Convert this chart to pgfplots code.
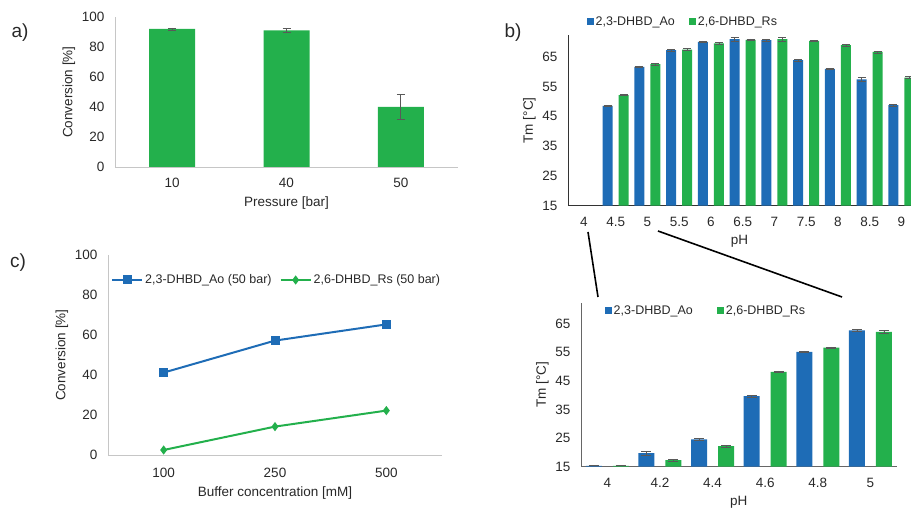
\documentclass[border=0pt]{standalone}
\usepackage{fontspec}
\setmainfont{Liberation Sans}
\usepackage{pgfplots}
\pgfplotsset{compat=1.18}
\definecolor{myblue}{RGB}{30,108,182}
\definecolor{mygreen}{RGB}{35,176,76}
\definecolor{txt}{RGB}{40,40,40}
\pgfplotsset{
  mystyle/.style={
    scale only axis,
    axis x line*=bottom, axis y line*=left,
    axis line style={-, line width=0.8pt},
    major tick length=0pt,
    tick label style={font=\fontsize{13.5}{15}\selectfont, text=txt},
    label style={font=\fontsize{13.5}{15}\selectfont, text=txt},
    /pgf/number format/assume math mode=true,
    yticklabel style={xshift=-7pt},
    xticklabel style={yshift=-8pt},
    xlabel style={yshift=-2pt},
    legend style={draw=none, fill=none, font=\fontsize{12.5}{14}\selectfont, text=txt, legend columns=2},
  },
  sqlegend/.style={legend image code/.code={\fill[##1] (0pt,-3.5pt) rectangle (7pt,3.5pt);}},
  ebar/.style={error bars/.cd, y dir=both, y explicit,
    error bar style={gray!70!black, line width=0.7pt},
    error mark options={rotate=90, mark size=#1, gray!70!black, line width=0.7pt}},
}
\begin{document}
\begin{tikzpicture}
% ---------- panel a ----------
\begin{axis}[mystyle, at={(115pt,-167pt)}, anchor=south west,
  width=343pt, height=150pt,
  axis line style={draw=gray!45},
  ymin=0, ymax=100, ytick={0,20,40,60,80,100},
  xmin=-0.5, xmax=2.5, xtick={0,1,2}, xticklabels={10,40,50},
  ylabel={Conversion [\%]}, xlabel={Pressure [bar]},
  ybar, bar width=46pt]
\addplot[fill=mygreen, draw=none, ebar=4pt] coordinates {(0,92)+-(0,0.7) (1,91)+-(0,1.5) (2,40)+-(0,8.2)};
\end{axis}
% ---------- panel b ----------
\begin{axis}[mystyle, at={(568pt,-205.7pt)}, anchor=south west,
  width=343pt, height=170.7pt,
  axis line style={draw=black!80},
  ymin=15, ymax=72.3, ytick={15,25,35,45,55,65},
  xmin=3.75, xmax=9.15, xtick={4,4.5,5,5.5,6,6.5,7,7.5,8,8.5,9},
  xticklabels={4,4.5,5,5.5,6,6.5,7,7.5,8,8.5,9},
  ylabel={Tm [°C]}, xlabel={pH},
  ybar=6pt, bar width=10pt, sqlegend,
  legend style={at={(axis description cs:0.045,1.078)}, anchor=west,
    /tikz/every even column/.append style={column sep=12pt}}]
\addplot[fill=myblue, draw=none, ebar=4pt] coordinates {
 (4.5,48.5)+-(0,0.2) (5,61.6)+-(0,0.3) (5.5,67.2)+-(0,0.3) (6,70.0)+-(0,0.3) (6.5,70.9)+-(0,0.6)
 (7,70.6)+-(0,0.3) (7.5,63.9)+-(0,0.3) (8,60.9)+-(0,0.3) (8.5,57.4)+-(0,0.6) (9,48.8)+-(0,0.3)};
\addplot[fill=mygreen, draw=none, ebar=4pt] coordinates {
 (4.5,52.1)+-(0,0.2) (5,62.5)+-(0,0.3) (5.5,67.4)+-(0,0.3) (6,69.5)+-(0,0.3) (6.5,70.7)+-(0,0.3)
 (7,70.9)+-(0,0.6) (7.5,70.3)+-(0,0.3) (8,68.9)+-(0,0.3) (8.5,66.6)+-(0,0.3) (9,58.0)+-(0,0.3)};
\addlegendentry{2,3-DHBD\_Ao}
\addlegendentry{2,6-DHBD\_Rs}
\end{axis}
% ---------- panel c ----------
\begin{axis}[mystyle, at={(108pt,-455pt)}, anchor=south west,
  width=334pt, height=200pt,
  axis line style={draw=gray!45},
  ymin=0, ymax=100, ytick={0,20,40,60,80,100},
  xmin=-0.5, xmax=2.5, xtick={0,1,2}, xticklabels={100,250,500},
  xticklabel style={yshift=-2pt},
  ylabel={Conversion [\%]}, xlabel={Buffer concentration [mM]},
  legend image code/.code={\draw[mark repeat=2,mark phase=2,#1] plot coordinates {(0pt,0pt) (15pt,0pt) (30pt,0pt)};},
  legend style={at={(axis description cs:0.0,0.875)}, anchor=west,
    /tikz/every even column/.append style={column sep=6pt}}]
\addplot[myblue, line width=2pt, mark=square*, mark size=3.5pt] coordinates {(0,41.2) (1,57.2) (2,65.3)};
\addplot[mygreen, line width=2pt, mark=diamond*, mark size=3pt] coordinates {(0,2.5) (1,14.2) (2,22.2)};
\addlegendentry{2,3-DHBD\_Ao (50 bar)}
\addlegendentry{2,6-DHBD\_Rs (50 bar)}
\end{axis}
% ---------- panel d ----------
\begin{axis}[mystyle, at={(581pt,-466.7pt)}, anchor=south west,
  width=315.7pt, height=163.4pt,
  axis line style={draw=black!60},
  ymin=15, ymax=72, ytick={15,25,35,45,55,65},
  xmin=3.9, xmax=5.1, xtick={4,4.2,4.4,4.6,4.8,5},
  xticklabels={4,4.2,4.4,4.6,4.8,5},
  ylabel={Tm [°C]}, xlabel={pH},
  ybar=11pt, bar width=16pt, sqlegend,
  legend style={at={(axis description cs:0.065,0.955)}, anchor=west,
    /tikz/every even column/.append style={column sep=22pt}}]
\addplot[fill=myblue, draw=none, ebar=5pt] coordinates {
 (4,15.3)+-(0,0) (4.2,19.7)+-(0,0.6) (4.4,24.5)+-(0,0.3) (4.6,39.6)+-(0,0.3) (4.8,55.1)+-(0,0.3) (5,62.6)+-(0,0.4)};
\addplot[fill=mygreen, draw=none, ebar=5pt] coordinates {
 (4,15.3)+-(0,0) (4.2,17.3)+-(0,0.3) (4.4,22.2)+-(0,0.3) (4.6,48.1)+-(0,0.3) (4.8,56.5)+-(0,0.3) (5,62.0)+-(0,0.4)};
\addlegendentry{2,3-DHBD\_Ao}
\addlegendentry{2,6-DHBD\_Rs}
\end{axis}
% ---------- panel letters and connectors ----------
\node[font=\fontsize{19}{21}\selectfont, text=txt] at (20pt,-33pt) {a)};
\node[font=\fontsize{19}{21}\selectfont, text=txt] at (513pt,-33pt) {b)};
\node[font=\fontsize{19}{21}\selectfont, text=txt] at (18pt,-263pt) {c)};
\draw[line width=1.6pt] (588pt,-232pt) -- (598pt,-297pt);
\draw[line width=1.6pt] (658pt,-231pt) -- (842pt,-297pt);
\pgfresetboundingbox
\useasboundingbox (0pt,0pt) rectangle (911pt,-510pt);
\end{tikzpicture}
\end{document}
